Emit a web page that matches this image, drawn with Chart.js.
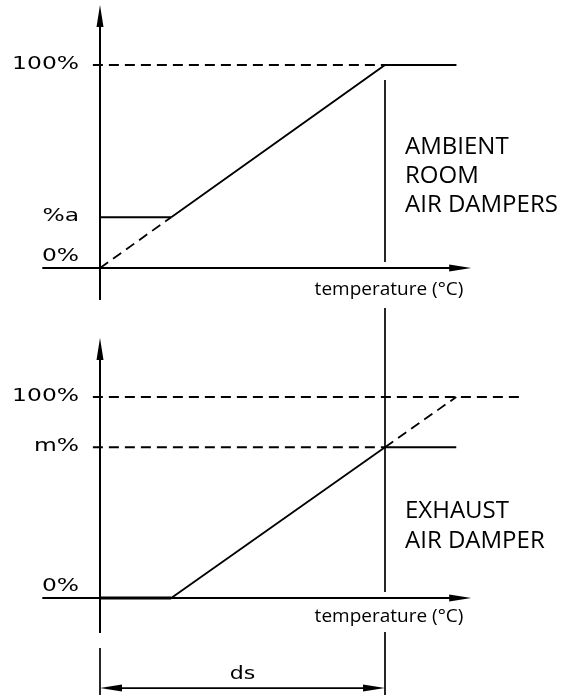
<!DOCTYPE html>
<html>
<head>
<meta charset="utf-8">
<script src="https://cdn.jsdelivr.net/npm/chart.js@4/dist/chart.umd.min.js"></script>
<style>
  html, body { margin: 0; padding: 0; background: #fff; }
  #wrap { position: relative; width: 565px; height: 695px; }
  #wrap canvas { position: absolute; left: 0; }
</style>
</head>
<body>
<div id="wrap">
  <canvas id="ambient" width="565" height="320" style="top:0"></canvas>
  <canvas id="exhaust" width="565" height="375" style="top:320px"></canvas>
</div>
<script>
// temperature steps (ds = 4 units), damper opening in %
const tempSteps = [0, 1, 4, 5];
const ambientValues = [0, 25, 100, 100];
const exhaustValues = [0, 0, 75, 100];
const ambientLevels = [100, 25, 0];
const ambientLabels = ['100%', '%a', '0%'];
const exhaustLevels = [100, 75, 0];
const exhaustLabels = ['100%', 'm%', '0%'];
const ds = 4;

const DASH = [10, 6];
const INK = '#000';

function seg(ctx, x1, y1, x2, y2, w, dash) {
    ctx.save();
    ctx.lineWidth = w || 1.5;
    ctx.setLineDash(dash || []);
    ctx.beginPath();
    ctx.moveTo(x1, y1);
    ctx.lineTo(x2, y2);
    ctx.stroke();
    ctx.restore();
}

function arrow(ctx, tx, ty, dx, dy) {
    const len = 22, half = 3.5;
    const bx = tx - dx * len, by = ty - dy * len;
    ctx.beginPath();
    ctx.moveTo(tx, ty);
    ctx.lineTo(bx - dy * half, by + dx * half);
    ctx.lineTo(bx + dy * half, by - dx * half);
    ctx.closePath();
    ctx.fill();
}

// axes, arrows, guide lines and the lettering of the diagram
const diagram = {
    id: 'diagram',
    beforeDatasetsDraw(chart, args, o) {
        const {ctx, scales: {x, y}} = chart;
        ctx.save();
        ctx.strokeStyle = INK;
        ctx.fillStyle = INK;
        const x0 = x.getPixelForValue(0), y0 = y.getPixelForValue(0);
        const xd = x.getPixelForValue(ds);

        // x axis
        const xEnd = x.getPixelForValue(o.xAxis[1]);
        seg(ctx, x.getPixelForValue(o.xAxis[0]), y0, xEnd - 10, y0, 2);
        arrow(ctx, xEnd, y0, 1, 0);
        // y axis
        const yTop = y.getPixelForValue(o.yAxis[1]);
        seg(ctx, x0, y.getPixelForValue(o.yAxis[0]), x0, yTop + 10, 2);
        arrow(ctx, x0, yTop, 0, -1);

        // vertical guide at ds
        o.guide.forEach(([a, b]) => seg(ctx, xd, y.getPixelForValue(a), xd, y.getPixelForValue(b), 1.7));

        // level labels (wide CAD-like lettering)
        ctx.font = '18px "DejaVu Sans"';
        ctx.textAlign = 'right';
        ctx.textBaseline = 'middle';
        o.levels.forEach((v, i) => {
            ctx.save();
            ctx.translate(x0 - 21, y.getPixelForValue(v) + (v === 0 ? -12 : -1));
            ctx.scale(1.3, 1);
            ctx.fillText(o.labels[i], 0, 0);
            ctx.restore();
        });

        // axis caption
        ctx.font = '19px "Open Sans"';
        ctx.textAlign = 'center';
        ctx.textBaseline = 'alphabetic';
        ctx.fillText('temperature (°C)', xd + 4, o.captionY);

        // panel title
        ctx.font = '24px "Open Sans"';
        ctx.textAlign = 'left';
        o.title.forEach((t, i) => ctx.fillText(t, xd + 20, o.titleY[i]));

        // dimension ds
        if (o.dim) {
            seg(ctx, x0, y.getPixelForValue(o.dim.ext[0]), x0, y.getPixelForValue(o.dim.ext[1]), 1.7);
            const yd = y.getPixelForValue(o.dim.at);
            seg(ctx, x0 + 10, yd, xd - 10, yd, 1.7);
            arrow(ctx, x0, yd, -1, 0);
            arrow(ctx, xd, yd, 1, 0);
            ctx.font = '17px "DejaVu Sans"';
            ctx.textAlign = 'center';
            ctx.textBaseline = 'middle';
            ctx.save();
            ctx.translate((x0 + xd) / 2, y.getPixelForValue(o.dim.labelAt));
            ctx.scale(1.3, 1);
            ctx.fillText('ds', 0, 0);
            ctx.restore();
        }
        ctx.restore();
    }
};

const pts = (xs, ys) => xs.map((t, i) => ({x: t, y: ys[i]}));

function lineSet(data, extra) {
    return Object.assign({
        data: data,
        borderColor: INK,
        borderWidth: 1.8,
        pointRadius: 0,
        fill: false,
        tension: 0
    }, extra);
}

function baseOptions(yMin, yMax, plug) {
    return {
        responsive: false,
        animation: false,
        layout: {padding: 0},
        scales: {
            x: {type: 'linear', min: -100 / 71.25, max: 465 / 71.25, display: false},
            y: {type: 'linear', min: yMin, max: yMax, display: false}
        },
        plugins: {
            legend: {display: false},
            tooltip: {enabled: false},
            diagram: plug
        }
    };
}

// ambient room air dampers
new Chart(document.getElementById('ambient'), {
    type: 'line',
    data: {
        datasets: [
            lineSet(pts(tempSteps, ambientValues), {
                segment: {borderDash: c => c.p0DataIndex === 0 ? DASH : undefined}
            }),
            lineSet([{x: 0, y: ambientLevels[1]}, {x: tempSteps[1], y: ambientLevels[1]}]),
            lineSet([{x: -0.1, y: ambientLevels[0]}, {x: ds, y: ambientLevels[0]}, {x: tempSteps[3], y: ambientLevels[0]}], {
                segment: {borderDash: c => c.p0DataIndex === 0 ? DASH : undefined}
            })
        ]
    },
    options: baseOptions(-52 / 2.03, 268 / 2.03, {
        xAxis: [-0.81, 5.21],
        yAxis: [-15.8, 129.6],
        levels: ambientLevels,
        labels: ambientLabels,
        guide: [[92.6, 3.0], [-19.7, -30]],
        captionY: 295,
        title: ['AMBIENT', 'ROOM', 'AIR DAMPERS'],
        titleY: [154, 183, 212]
    }),
    plugins: [diagram]
});

// exhaust air damper
new Chart(document.getElementById('exhaust'), {
    type: 'line',
    data: {
        datasets: [
            lineSet(pts(tempSteps, exhaustValues), {
                segment: {
                    borderDash: c => c.p0DataIndex === 2 ? DASH : undefined,
                    borderWidth: c => c.p0DataIndex === 0 ? 3.2 : 1.8
                }
            }),
            lineSet([{x: -0.1, y: exhaustLevels[0]}, {x: 5.9, y: exhaustLevels[0]}], {borderDash: DASH}),
            lineSet([{x: -0.1, y: exhaustLevels[1]}, {x: ds, y: exhaustLevels[1]}, {x: tempSteps[3], y: exhaustLevels[1]}], {
                segment: {borderDash: c => c.p0DataIndex === 0 ? DASH : undefined}
            })
        ]
    },
    options: baseOptions(-97 / 2.01, 278 / 2.01, {
        xAxis: [-0.81, 5.21],
        yAxis: [-17.4, 129.35],
        levels: exhaustLevels,
        labels: exhaustLabels,
        guide: [[140, 3.0], [-16.9, -50]],
        captionY: 301.5,
        title: ['EXHAUST', 'AIR DAMPER'],
        titleY: [198, 228],
        dim: {ext: [-24.9, -50], at: -44.8, labelAt: -38.3}
    }),
    plugins: [diagram]
});
</script>
</body>
</html>
